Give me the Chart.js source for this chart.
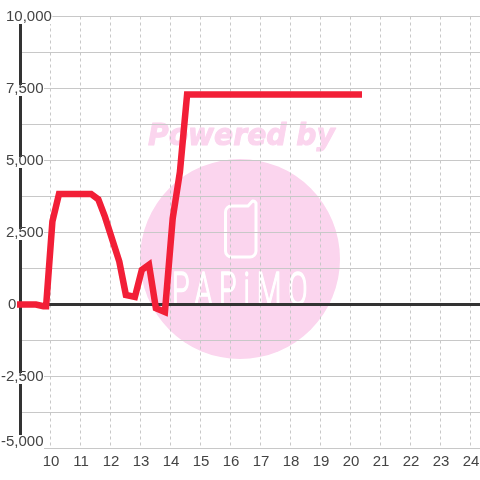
<!DOCTYPE html>
<html>
<head>
<meta charset="utf-8">
<style>html,body{margin:0;padding:0;background:#fff}#w{width:480px;height:480px}</style>
<script src="https://cdn.jsdelivr.net/npm/chart.js@4"></script>
</head>
<body>
<div id="w"><canvas id="c" width="480" height="480"></canvas></div>
<script>
const hours = [8.9, 9.53, 9.78, 9.87, 10.08, 10.3, 11.37, 11.61, 11.83, 12.31, 12.53, 12.83, 13.06, 13.3, 13.53, 13.83, 14.09, 14.33, 14.57, 20.4];
const values = [0, 0, -60, -60, 2880, 3840, 3840, 3650, 3050, 1490, 330, 260, 1200, 1380, -130, -260, 2990, 4600, 7290, 7290];
const hourTicks = [9, 10, 11, 12, 13, 14, 15, 16, 17, 18, 19, 20, 21, 22, 23, 24];
const yTicks = [10000, 7500, 5000, 2500, 0, -2500, -5000];
const yTickLabels = ['10,000', '7,500', '5,000', '2,500', '0', '-2,500', '-5,000'];
const watermarkTop = 'Powered by';
const watermarkName = 'PAPiMO';

const FONT = '15px "Liberation Sans"';
const INK = '#444444';

const watermark = {
  id: 'watermark',
  beforeDraw(chart) {
    const c = chart.ctx;
    c.save();
    c.fillStyle = '#fbd5ee';
    c.beginPath(); c.arc(240, 259, 100, 0, Math.PI * 2); c.fill();
    c.save();
    c.translate(148, 145);
    c.scale(0.94, 1);
    c.font = 'italic bold 30px "DejaVu Sans"';
    c.textAlign = 'left'; c.textBaseline = 'alphabetic';
    c.strokeStyle = '#fbd5ee'; c.lineWidth = 1; c.lineJoin = 'round';
    c.fillText(watermarkTop, 0, 0);
    c.strokeText(watermarkTop, 0, 0);
    c.restore();
    c.strokeStyle = '#fff'; c.lineWidth = 3; c.lineJoin = 'round'; c.lineCap = 'round';
    c.beginPath();
    c.moveTo(248, 206); c.lineTo(232, 206);
    c.arcTo(225.5, 206, 225.5, 212, 6); c.lineTo(225.5, 251);
    c.arcTo(225.5, 257, 232, 257, 6); c.lineTo(250, 257);
    c.arcTo(256, 257, 256, 251, 6); c.lineTo(256, 203);
    c.arcTo(256, 200.5, 253, 201, 3); c.lineTo(248, 206);
    c.stroke();
    c.fillStyle = '#fff';
    c.save();
    c.translate(172, 305);
    c.scale(0.62, 1);
    c.letterSpacing = '11px';
    c.font = '300 46px Roboto';
    c.lineWidth = 1.5;
    c.lineCap = 'butt';
    c.fillText(watermarkName, 0, 0);
    c.strokeText(watermarkName, 0, 0);
    c.restore();
    c.restore();
  }
};

const yLabelsOnTop = {
  id: 'yLabelsOnTop',
  afterDatasetsDraw(chart) {
    const c = chart.ctx, y = chart.scales.y;
    c.save();
    c.font = FONT; c.textAlign = 'left'; c.textBaseline = 'middle';
    yTicks.forEach((v, i) => {
      const label = yTickLabels[i];
      const last = i === yTicks.length - 1;
      const cy = y.getPixelForValue(v) - (last ? 7 : 0);
      const left = v < 0 ? 1 : v === 0 ? 8 : 6;
      const w = c.measureText(label).width;
      c.fillStyle = '#fff';
      c.fillRect(left, cy - (last ? 6.5 : 3.5), w + 0.5, last ? 14 : 11);
      c.fillStyle = INK;
      c.fillText(label, left, cy + 0.5);
    });
    c.restore();
  }
};

new Chart(document.getElementById('c'), {
  type: 'line',
  data: {
    datasets: [{
      data: hours.map((h, i) => ({ x: h, y: values[i] })),
      borderColor: '#f21f37',
      borderWidth: 6.5,
      borderJoinStyle: 'miter',
      borderCapStyle: 'butt',
      pointRadius: 0,
      tension: 0,
      fill: false,
      clip: false
    }]
  },
  options: {
    responsive: false,
    animation: false,
    events: [],
    layout: { padding: { top: 16.5, left: 0, right: 0, bottom: 0 } },
    plugins: { legend: { display: false }, title: { display: false }, tooltip: { enabled: false } },
    scales: {
      x: {
        type: 'linear',
        min: 9,
        max: 24.3333,
        afterBuildTicks(s) { s.ticks = hourTicks.map(v => ({ value: v })); },
        afterFit(s) { s.height = 31.5; s.paddingLeft = 0; s.paddingRight = 0; },
        grid: {
          color: c => c.tick && c.tick.value === 9 ? 'rgba(0,0,0,0)' : '#c8c8c8',
          lineWidth: 1,
          drawTicks: false
        },
        border: { display: false, dash: [3, 3] },
        ticks: {
          autoSkip: false,
          maxRotation: 0,
          minRotation: 0,
          padding: 4,
          labelOffset: 1,
          color: INK,
          font: { family: '"Liberation Sans"', size: 15 },
          callback: v => v === 9 ? '' : String(v)
        }
      },
      y: {
        min: -5000,
        max: 10000,
        afterFit(s) { s.width = 20; s.paddingTop = 0; s.paddingBottom = 0; },
        ticks: { stepSize: 1250, display: false },
        grid: {
          color: c => c.tick && c.tick.value === 0 ? '#333333' : '#c8c8c8',
          lineWidth: c => c.tick && c.tick.value === 0 ? 3 : 1,
          drawTicks: false
        },
        border: { display: true, color: '#333333', width: 3 }
      }
    }
  },
  plugins: [watermark, yLabelsOnTop]
});
</script>
</body>
</html>
